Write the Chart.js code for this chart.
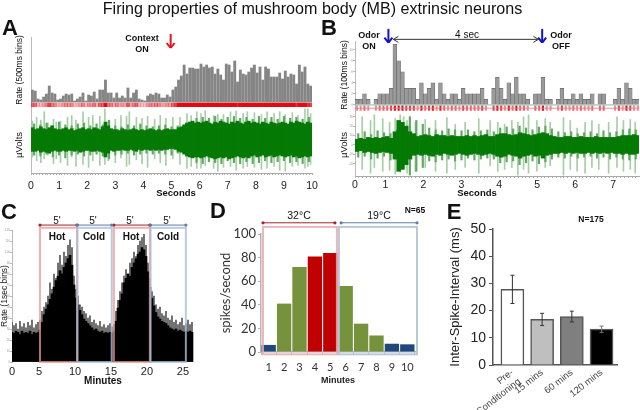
<!DOCTYPE html>
<html>
<head>
<meta charset="utf-8">
<script src="https://cdn.jsdelivr.net/npm/chart.js@4"></script>
<style>
  html, body { margin: 0; padding: 0; background: #fff; }
  #page { position: relative; width: 640px; height: 410px; overflow: hidden; background: #fff; filter: blur(0.4px); }
  canvas { position: absolute; left: 0; top: 0; }
  .note { position: absolute; transform: translate(-50%, -50%); white-space: nowrap; color: #111; font-family: "Liberation Sans", Arial, sans-serif; }
</style>
</head>
<body>
<div id="page"></div>
<script>
// Panel A - rate (500ms bins) and voltage trace
const rateA = [12,11,3,2,5,8,16,9,8,2, 3,6,8,7,8,1,3,5,9,1, 7,6,10,3,12,12,22,9,9,4,
  9,4,6,4,14,4,9,12,3,2, 1,6,8,7,9,8,4,4,7,5, 12,15,22,26,37,28,34,34,33,33,
  38,35,37,34,35,28,33,27,22,38, 37,30,41,20,32,28,27,30,34,37,
  29,35,22,35,33,25,25,25,29,23, 31,25,28,27,18,37,30,35,18,16];
const coreTopA = [13,11,12,14,12,11,13,15,12,11, 11,12,13,11,12,10,11,12,13,11, 12,11,13,12,11,14,19,15,12,11,
  11,10,12,11,10,11,12,11,10,11, 10,11,12,11,10,11,10,11,12,11, 11,11,13,14,16,18,19,20,18,19,
  18,19,20,18,17,19,18,20,19,18, 17,19,18,20,18,17,19,20,18,19, 18,17,19,18,17,19,18,17,18,19, 18,17,19,18,20,19,18,17,19,18];
const coreBotA = [12,12,11,13,12,13,14,12,11,12, 12,11,12,11,11,12,11,13,12,11, 11,12,12,11,12,13,18,14,11,12,
  11,11,10,11,11,10,11,12,10,11, 10,10,11,10,11,10,11,10,10,9, 9,10,12,13,15,17,18,19,18,18,
  19,18,17,18,19,20,19,18,19,18, 20,19,18,17,18,19,18,19,17,16, 18,17,16,18,17,16,18,17,16,17, 18,17,16,18,17,19,18,17,18,17];
const spikeTimeA = [0.05,0.2,0.35,0.47,0.6,0.8,0.9,1.05,1.3,1.45,1.6,1.85,2.05,2.2,2.45,2.63,2.75,3.0,3.2,3.4,3.5,3.75,3.95,4.15,4.4,4.6,4.8,5.05,5.3,5.55,5.7,5.9,6.05,6.2,6.5,6.65,6.85,7.1,7.3,7.55,7.7,7.95,8.2,8.4,8.65,8.85,9.05,9.3,9.5,9.75,9.85,9.95];
const spikeUpA = [20,24,21,30,18,22,19,20,24,26,21,30,24,26,25,33,20,22,26,25,30,24,23,25,22,26,23,24,24,28,26,30,28,31,26,27,27,30,31,28,30,29,27,30,28,30,27,29,26,33,33,28];
const spikeDownA = [18,22,24,20,16,25,20,24,27,18,28,26,29,22,27,26,22,24,19,28,26,21,25,29,20,24,27,20,26,30,28,30,30,27,30,33,29,28,32,30,28,29,31,30,28,32,33,28,27,30,28,26];
// shorter spikes just outside the solid band, one every 0.2 s
const minorUpA = [17,16,18,15,19,16,15,17,18,15,17,16,21,15,14,16,15,17,15,14,15,16,14,15,16, 19,23,24,23,25,22,24,25,23,24,22,25,23,24,22,25,23,24,22,24];
const minorDownA = [16,17,15,18,16,19,16,15,17,16,15,17,20,16,15,14,16,15,14,15,14,15,16,14,13, 18,24,25,23,24,25,22,24,25,23,25,24,22,24,23,22,24,23,25,23];

// Panel B - rate (100ms bins) and voltage trace, first bin starts at 0.2 s
const rateB = [1,1,2,1,0,1,2,2,2,3,11,8,6,3,3,3,1,4,2,3,4,1,4,2,1,2,2,1,3,2,2,2,2,3,1,0,3,5,3,1,4,2,5,2,2,1,0,2,2,5,1,1,0,1,3,1,1,2,1,2,1,1,2,0,2,2,0,0,1,3,1,4,3,1,1];
const coreTopB = [6,7,6,8,7,8,7,8,9,7,14,26,24,20,14,12,9,10,11,10,9,11,10,10,9,10,9,9,9,10,9,10,9,10,11,9,9,11,12,12,11,10,11,13,12,11,10,11,12,13,12,10,9,8,8,9,9,8,8,9,8,8,8,9,8,8,8,8,8,9,10,10,10,11,10];
const coreBotB = [7,6,8,7,8,9,8,7,8,9,15,28,26,21,15,11,10,11,10,11,12,10,11,9,10,11,10,9,10,11,10,9,10,11,10,9,10,12,13,12,10,11,12,14,12,11,10,12,11,14,11,10,9,9,8,9,8,9,8,9,9,8,9,8,9,8,9,8,9,9,10,9,10,10,9];
const spikeTimeB = [0.39,0.61,0.71,0.93,1.11,1.26,1.39,1.48,1.57,1.79,2.05,2.32,2.62,2.84,3.1,3.46,3.76,3.96,4.14,4.33,4.49,4.64,4.77,4.99,5.21,5.34,5.69,5.87,6.05,6.26,6.44,6.62,6.88,7.1,7.27,7.45,7.58];
const spikeUpB = [30,26,32,28,24,28,32,30,26,24,27,26,29,22,24,28,26,24,22,26,24,30,32,26,28,24,29,26,18,24,26,22,24,30,26,27,24];
const spikeDownB = [26,30,24,28,27,31,29,24,30,28,24,28,30,26,24,30,22,28,26,24,32,26,30,28,24,22,32,26,28,30,24,26,30,24,28,26,30];
const minorUpB = [12,14,11,15,13,12,16,14,30,26,22,18,16,15,17,16,15,16,14,15,16,14,18,19,17,20,18,16,19,20,17,14,13,14,12,13,14,12,15,13,14,16,17,16];
const minorDownB = [13,12,15,14,12,16,15,13,32,28,24,17,18,16,15,17,16,14,16,15,14,15,19,18,17,21,19,17,20,18,15,13,14,12,14,13,12,14,13,15,13,15,16,15];

// Panel C - whole recording, rate in columns
const coreC = [27,26,28,27,25,28,26,27,26,28,25,27,26,27,29,36,43,48,52,57,62,68,74,78,83,80,86,90,94,97,88,70,58,52,47,43,39,37,35,33,31,29,30,28,27,28,26,27,26,27,26,28,37,49,56,62,72,76,80,78,86,90,94,98,100,104,102,96,82,68,58,51,45,41,39,37,36,35,33,31,30,29,30,28,29,28,27,28,27,28,27];
const peakC = [36,33,35,30,37,32,35,31,36,33,38,31,34,36,38,46,50,54,60,72,66,80,76,90,97,88,100,96,106,111,104,78,66,60,52,50,46,44,40,42,36,38,35,33,37,32,34,31,33,35,32,34,46,56,64,72,78,84,80,90,94,100,96,106,110,113,116,106,90,76,64,60,52,48,50,44,42,46,40,38,42,36,38,34,36,40,33,35,38,34,36];
const hotPeriods = [[5.14, 10.28], [15.4, 20.4]];
const coldPeriods = [[10.35, 15.1], [20.5, 25.4]];
const ticksC = [1.25, 5, 10, 15, 20, 25];
const tickLabelsC = ["0", "5", "10", "15", "20", "25"];

// Panel D - spikes per second each minute
const minutesD = ["1","2","3","4","5","6","7","8","9","10"];
const spikesD = [6,41,72,81,84,56,24,14,7,6.5];
const coloursD = ["#1f497d","#76923c","#76923c","#c00000","#c00000","#76923c","#76923c","#76923c","#1f497d","#1f497d"];

// Panel E - inter-spike interval
const labelsE = [["Pre-","Conditioning"], "15 mins", "60 mins", "120 mins"];
const valuesE = [27.8, 16.8, 17.8, 13.2];
const errHighE = [33, 19, 19.8, 14.3];
const errLowE = [22.6, 14.5, 15.8, 12];
const fillsE = ["#ffffff", "#bfbfbf", "#7f7f7f", "#000000"];

const ARIAL = '"Liberation Sans", Arial, sans-serif';
const LATO = 'Lato, "Open Sans", sans-serif';
const page = document.getElementById('page');

// every chart gets a full page canvas, the plot area is set by the padding
function addChart(box, yW, xH, config) {
  const cv = document.createElement('canvas');
  cv.width = 640;
  cv.height = 410;
  page.appendChild(cv);
  config.options = Object.assign({
    responsive: false,
    animation: false,
    events: [],
    layout: { padding: { left: box.l - yW, top: box.t, right: 640 - box.r, bottom: 410 - box.b - xH } },
    plugins: { legend: { display: false }, tooltip: { enabled: false } }
  }, config.options);
  config.options.scales.x.afterFit = s => { s.width = box.r - box.l; s.height = xH; };
  config.options.scales.y.afterFit = s => { s.width = yW; };
  return new Chart(cv, config);
}

function drawLine(ctx, x0, y0, x1, y1, color, width) {
  ctx.save();
  ctx.strokeStyle = color;
  ctx.lineWidth = width;
  ctx.beginPath();
  ctx.moveTo(x0, y0);
  ctx.lineTo(x1, y1);
  ctx.stroke();
  ctx.restore();
}

// box outline in data coordinates
function periodBox(chart, period, top, bottom, color) {
  const { x, y } = chart.scales;
  const ctx = chart.ctx;
  ctx.save();
  ctx.strokeStyle = color;
  ctx.lineWidth = 2;
  ctx.strokeRect(x.getPixelForValue(period[0]), y.getPixelForValue(top),
    x.getPixelForValue(period[1]) - x.getPixelForValue(period[0]), y.getPixelForValue(bottom) - y.getPixelForValue(top));
  ctx.restore();
}

// horizontal bracket with dots at the ends
function bracket(chart, period, level, color) {
  const { x, y } = chart.scales;
  const ctx = chart.ctx;
  const px0 = x.getPixelForValue(period[0]), px1 = x.getPixelForValue(period[1]), py = y.getPixelForValue(level);
  drawLine(ctx, px0, py, px1, py, color, 1);
  ctx.fillStyle = color;
  [px0, px1].forEach(p => { ctx.beginPath(); ctx.arc(p, py, 1.6, 0, 7); ctx.fill(); });
}

function downArrow(chart, at, from, to, color) {
  const { x, y } = chart.scales;
  const ctx = chart.ctx;
  const px = x.getPixelForValue(at), y0 = y.getPixelForValue(from), y1 = y.getPixelForValue(to);
  drawLine(ctx, px, y0, px, y1, color, 2);
  drawLine(ctx, px - 4, y1 - 5, px, y1, color, 2);
  drawLine(ctx, px + 4, y1 - 5, px, y1, color, 2);
}

function grayTicks() {
  return { color: '#999', font: { size: 3, family: ARIAL }, padding: 0 };
}

// trace panels: t holds the trace arrays, first dataset is drawn on top
function traceChart(box, xMin, xMax, times, t, thick, yMin, yMax, labelPad, labelX) {
  const minorStep = (xMax - xMin) / t.minorUp.length;
  addChart(box, 10, 22, {
    type: 'bar',
    data: {
      datasets: [
        { data: times.map((v, i) => ({ x: v, y: [-t.bot[i], t.top[i]] })), backgroundColor: '#047a04', barThickness: thick },
        { data: t.minorUp.map((v, i) => ({ x: xMin + (i + 0.5) * minorStep, y: [-t.minorDown[i], v] })), backgroundColor: '#5fa85f', barThickness: 1.5 },
        { data: t.spikeTime.map((v, i) => ({ x: v, y: [-t.spikeDown[i], t.spikeUp[i]] })), backgroundColor: '#a6cfa6', barThickness: 1 }
      ]
    },
    options: {
      datasets: { bar: { grouped: false } },
      scales: {
        x: {
          type: 'linear', min: xMin, max: xMax, offset: false,
          grid: { display: true, offset: false, drawOnChartArea: false, tickLength: 2, color: '#aaa' },
          border: { color: '#aaa' },
          afterBuildTicks: s => {
            const out = [];
            for (let v = Math.ceil(xMin * 10); v <= xMax * 10; v++) out.push({ value: v / 10 });
            s.ticks = out;
          },
          ticks: {
            autoSkip: false, maxRotation: 0, color: '#222', padding: labelPad, font: { size: 10.5, family: ARIAL },
            callback: v => labelX(v)
          }
        },
        y: {
          min: yMin, max: yMax,
          afterBuildTicks: s => { s.ticks = s.ticks.filter(k => k.value % 10 === 0); },
          grid: { display: true, drawOnChartArea: false, tickLength: 2, color: '#bbb' },
          border: { color: '#bbb' },
          ticks: Object.assign({ stepSize: 10 }, grayTicks())
        }
      }
    }
  });
}

function wholeSecond(v) {
  return Math.abs(v - Math.round(v)) < 0.001 ? String(Math.round(v)) : '';
}

// A rate + raster
const timeA = rateA.map((_, i) => i * 0.1 + 0.05);
addChart({ l: 31, r: 312, t: 37, b: 107 }, 17, 0, {
  type: 'bar',
  data: {
    datasets: [
      { data: timeA.map((t, i) => ({ x: t, y: rateA[i] })), backgroundColor: '#858585', barThickness: 2.2 },
      {
        data: timeA.map(t => ({ x: t, y: [-5, -1] })),
        backgroundColor: rateA.map(r => `rgba(225,10,20,${Math.min(1, 0.2 + r / 28).toFixed(2)})`),
        barThickness: 3
      }
    ]
  },
  options: {
    datasets: { bar: { grouped: false } },
    scales: {
      x: { type: 'linear', min: 0, max: 10, offset: false, display: false, grid: { offset: false } },
      y: {
        min: -5, max: 65,
        afterBuildTicks: s => { s.ticks = s.ticks.filter(t => t.value >= 0 && t.value % 10 === 0); },
        grid: { display: true, drawOnChartArea: false, tickLength: 2, color: '#bbb' },
        border: { color: '#bbb' },
        ticks: Object.assign({ stepSize: 10 }, grayTicks())
      }
    }
  },
  plugins: [{ id: 'contextArrow', afterDatasetsDraw(c) { downArrow(c, 4.97, 68, 54, '#e3141e'); } }]
});
traceChart({ l: 31, r: 312, t: 107, b: 173 }, 0, 10, timeA,
  { top: coreTopA, bot: coreBotA, minorUp: minorUpA, minorDown: minorDownA, spikeTime: spikeTimeA, spikeUp: spikeUpA, spikeDown: spikeDownA },
  3, -35, 35, 5, wholeSecond);

// B rate + raster
const timeB = rateB.map((_, i) => 0.2 + i * 0.1 + 0.05);
addChart({ l: 355, r: 639, t: 41, b: 111 }, 17, 0, {
  type: 'bar',
  data: {
    datasets: [
      { data: timeB.map((t, i) => ({ x: t, y: rateB[i] })), backgroundColor: '#9a9a9a', borderColor: '#6a6a6a', borderWidth: 0.6, barThickness: 3.8 },
      {
        data: timeB.map(t => ({ x: t, y: [-1, -0.15] })),
        backgroundColor: rateB.map(r => r === 0 ? 'rgba(0,0,0,0)' : `rgba(225,10,20,${Math.min(1, 0.3 + r / 6).toFixed(2)})`),
        barThickness: 1.4
      }
    ]
  },
  options: {
    datasets: { bar: { grouped: false } },
    scales: {
      x: { type: 'linear', min: 0.2, max: 7.68, offset: false, display: false, grid: { offset: false } },
      y: {
        min: -1.1, max: 11.6,
        afterBuildTicks: s => { s.ticks = s.ticks.filter(t => t.value >= 0 && t.value % 2 === 0); },
        grid: { display: true, drawOnChartArea: false, tickLength: 2, color: '#bbb' },
        border: { color: '#bbb' },
        ticks: Object.assign({ stepSize: 2 }, grayTicks())
      }
    }
  },
  plugins: [{
    id: 'odorMarks',
    afterDatasetsDraw(c) {
      const { x, y } = c.scales;
      // pink raster line and green baseline
      drawLine(c.ctx, 355, y.getPixelForValue(-0.6), 639, y.getPixelForValue(-0.6), 'rgba(235,120,130,0.8)', 1);
      drawLine(c.ctx, 355, y.getPixelForValue(0), 639, y.getPixelForValue(0), '#8db9a8', 1);
      downArrow(c, 1.08, 13.8, 11.3, '#1212c8');
      downArrow(c, 5.13, 13.8, 11.3, '#1212c8');
      const x0 = x.getPixelForValue(1.21), x1 = x.getPixelForValue(5.03), py = y.getPixelForValue(11.9);
      drawLine(c.ctx, x0, py, x1, py, '#333', 1);
      drawLine(c.ctx, x0 + 5, py - 3, x0, py, '#333', 1);
      drawLine(c.ctx, x0 + 5, py + 3, x0, py, '#333', 1);
      drawLine(c.ctx, x1 - 5, py - 3, x1, py, '#333', 1);
      drawLine(c.ctx, x1 - 5, py + 3, x1, py, '#333', 1);
    }
  }]
});
traceChart({ l: 355, r: 639, t: 112, b: 176 }, 0.2, 7.68, timeB,
  { top: coreTopB, bot: coreBotB, minorUp: minorUpB, minorDown: minorDownB, spikeTime: spikeTimeB, spikeUp: spikeUpB, spikeDown: spikeDownB },
  3.8, -33, 35, 1, v => Math.abs(v - 0.2) < 0.001 ? '0' : wholeSecond(v));

// C
const timeC = coreC.map((_, i) => 1.25 + i * 2 / 7.2);
addChart({ l: 12, r: 194, t: 230, b: 362 }, 12, 25, {
  type: 'bar',
  data: {
    datasets: [
      { data: timeC.map((t, i) => ({ x: t, y: coreC[i] })), backgroundColor: '#000', barThickness: 2 },
      { data: timeC.map((t, i) => ({ x: t, y: peakC[i] })), backgroundColor: '#555', barThickness: 1 }
    ]
  },
  options: {
    datasets: { bar: { grouped: false } },
    scales: {
      x: {
        type: 'linear', min: 1.25, max: 26.53, offset: false,
        grid: { display: false, offset: false, tickLength: 0 },
        border: { display: false },
        afterBuildTicks: s => { s.ticks = ticksC.map(v => ({ value: v })); },
        ticks: { autoSkip: false, maxRotation: 0, color: '#222', padding: 3, font: { size: 11, family: ARIAL }, callback: (v, i) => tickLabelsC[i] },
        title: { display: true, text: 'Minutes', color: '#111', padding: 0, font: { size: 10, weight: 'bold', family: ARIAL } }
      },
      y: {
        min: 0, max: 120,
        grid: { display: true, drawOnChartArea: false, tickLength: 2, color: '#bbb' },
        border: { color: '#bbb' },
        ticks: Object.assign({ stepSize: 10 }, grayTicks()),
        title: { display: true, text: 'Rate (1sec bins)', color: '#222', padding: 0, font: { size: 8.5, family: ARIAL } }
      }
    }
  },
  plugins: [{
    id: 'periodsC',
    afterDatasetsDraw(c) {
      hotPeriods.forEach(p => { periodBox(c, p, 122, 0, 'rgba(232,150,150,0.75)'); bracket(c, p, 124.5, '#9c2a2a'); });
      coldPeriods.forEach(p => { periodBox(c, p, 122, 0, 'rgba(170,190,215,0.8)'); bracket(c, p, 124.5, '#5f7fa5'); });
    }
  }]
});

// D
addChart({ l: 261, r: 415, t: 234, b: 352 }, 43, 34.4, {
  type: 'bar',
  data: { labels: minutesD, datasets: [{ data: spikesD, backgroundColor: coloursD, barPercentage: 1, categoryPercentage: 0.93 }] },
  options: {
    scales: {
      x: {
        grid: { display: true, drawOnChartArea: false, tickLength: 3, color: '#b5b5b5' },
        border: { color: '#b5b5b5', width: 1.5 },
        ticks: { autoSkip: false, color: '#333', padding: 6, maxRotation: 0, font: { size: 11, family: LATO } },
        title: { display: true, text: 'Minutes', color: '#222', padding: 0, font: { size: 9, weight: 'bold', family: ARIAL } }
      },
      y: {
        min: 0, max: 100,
        grid: { display: true, drawOnChartArea: false, tickLength: 3, color: '#b5b5b5' },
        border: { color: '#b5b5b5', width: 1.5 },
        ticks: { stepSize: 20, color: '#333', padding: 2, font: { size: 13, family: LATO } },
        title: { display: true, text: 'spikes/second', color: '#333', padding: 0, font: { size: 13, family: LATO } }
      }
    }
  },
  plugins: [{
    id: 'tempBoxes',
    afterDatasetsDraw(c) {
      periodBox(c, [-0.37, 4.43], 106, -2, 'rgba(232,170,175,0.85)');
      periodBox(c, [4.56, 9.63], 106, -2, 'rgba(175,195,215,0.9)');
      bracket(c, [-0.37, 4.3], 109.5, '#a02828');
      bracket(c, [4.7, 9.63], 109.5, '#5f7fa5');
    }
  }]
});

// E
addChart({ l: 493, r: 617, t: 229, b: 365 }, 45, 45, {
  type: 'bar',
  data: {
    datasets: [{
      data: valuesE.map((v, i) => ({ x: i + 1, y: v })),
      backgroundColor: fillsE, borderColor: '#555', borderWidth: 1.5, barThickness: 23
    }]
  },
  options: {
    scales: {
      x: {
        type: 'linear', min: 0.347, max: 4.52, offset: false,
        grid: { display: false, offset: false, tickLength: 0 },
        border: { color: '#555', width: 1.5 },
        afterBuildTicks: s => { s.ticks = labelsE.map((_, i) => ({ value: i + 1 })); },
        ticks: {
          autoSkip: false, minRotation: 38, maxRotation: 38, padding: 2, color: '#444',
          font: { size: 9.5, family: ARIAL }, callback: (v, i) => labelsE[i]
        }
      },
      y: {
        min: 0, max: 50,
        grid: { display: true, drawOnChartArea: false, tickLength: 4, color: '#555' },
        border: { color: '#555', width: 1.5 },
        ticks: { stepSize: 10, color: '#222', padding: 3, font: { size: 14, family: ARIAL } },
        title: { display: true, text: 'Inter-Spike-Interval (ms)', color: '#222', padding: 0, font: { size: 13, family: ARIAL } }
      }
    }
  },
  plugins: [{
    id: 'errorBars',
    afterDatasetsDraw(c) {
      const { x, y } = c.scales;
      valuesE.forEach((_, i) => {
        const px = x.getPixelForValue(i + 1), hi = y.getPixelForValue(errHighE[i]), lo = y.getPixelForValue(errLowE[i]);
        const col = i === 3 ? '#777' : '#333';
        drawLine(c.ctx, px, hi, px, lo, col, 1);
        drawLine(c.ctx, px - 2, hi, px + 2, hi, col, 1);
        drawLine(c.ctx, px - 2, lo, px + 2, lo, col, 1);
      });
    }
  }]
});

// titles, letters and notes
const notes = [
  ["Firing properties of mushroom body (MB) extrinsic neurons", 312.5, 8, 16.1, "normal"],
  ["A", 10, 28, 22, "bold"], ["B", 329, 28, 22, "bold"], ["C", 9, 212, 22, "bold"], ["D", 218, 211, 22, "bold"], ["E", 454, 212, 22, "bold"],
  ["Context", 142, 38, 9, "bold"], ["ON", 142, 49, 9, "bold"],
  ["Odor", 369, 35, 9, "bold"], ["ON", 369, 46, 9, "bold"],
  ["Odor", 561, 35, 9, "bold"], ["OFF", 561, 46, 9, "bold"],
  ["4 sec", 467, 34, 10, "normal"],
  ["Seconds", 176, 192, 9.5, "bold"], ["Seconds", 477, 192, 9.5, "bold"],
  ["Rate (500ms bins)", 19, 70, 8.5, "normal", true], ["Rate (100ms bins)", 344, 75, 8.5, "normal", true],
  ["µVolts", 18, 145, 9.5, "normal", true], ["µVolts", 343, 145, 9.5, "normal", true],
  ["Hot", 57, 236, 10, "bold"], ["Cold", 94, 236, 10, "bold"], ["Hot", 131, 236, 10, "bold"], ["Cold", 168, 236, 10, "bold"],
  ["5'", 57, 220, 10, "normal"], ["5'", 93, 220, 10, "normal"], ["5'", 130, 220, 10, "normal"], ["5'", 167, 220, 10, "normal"],
  ["32°C", 299, 215, 10.5, "normal"], ["19°C", 379, 215, 10.5, "normal"],
  ["N=65", 415, 210, 8.5, "bold"], ["N=175", 591, 219, 8.5, "bold"]
];
notes.forEach(n => {
  const d = document.createElement('div');
  d.className = 'note';
  d.textContent = n[0];
  d.style.left = n[1] + 'px';
  d.style.top = n[2] + 'px';
  d.style.fontSize = n[3] + 'px';
  d.style.fontWeight = n[4];
  if (n[5]) d.style.transform = 'translate(-50%, -50%) rotate(-90deg)';
  page.appendChild(d);
});
</script>
</body>
</html>
